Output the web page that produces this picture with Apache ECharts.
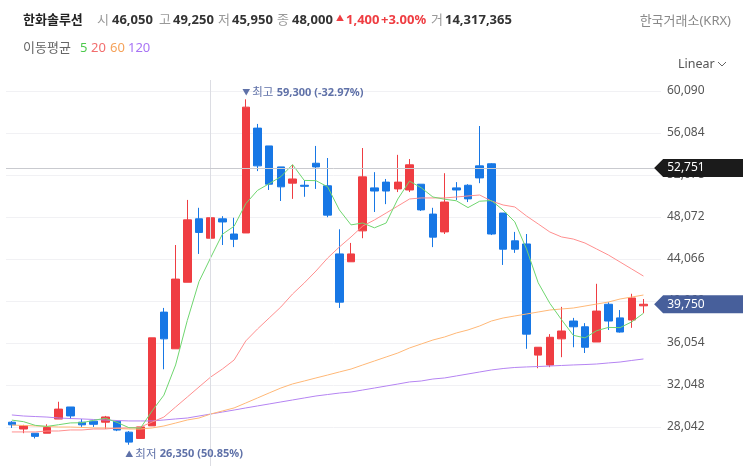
<!DOCTYPE html>
<html lang="ko">
<head>
<meta charset="UTF-8">
<title>한화솔루션</title>
<script src="https://cdn.jsdelivr.net/npm/echarts@6/dist/echarts.min.js"></script>
<style>
  html, body { margin: 0; padding: 0; background: #fff; }
  #chart { width: 743px; height: 466px; }
</style>
</head>
<body>
<div id="chart"></div>
<script>
// 일봉 (화면에 보이는 55개) + 오른쪽 빈 칸 1개
var days = ['1','2','3','4','5','6','7','8','9','10','11','12','13','14','15','16','17','18','19','20',
  '21','22','23','24','25','26','27','28','29','30','31','32','33','34','35','36','37','38','39','40',
  '41','42','43','44','45','46','47','48','49','50','51','52','53','54','55',''];

var opens  = [28500,27850,27450,27450,28800,29950,28500,28600,28500,28600,27550,26950,28150,39000,35500,41850,47900,46050,47900,46450,
  46550,56550,54850,52850,51300,51100,53200,51050,44550,43800,46750,50850,51400,50750,50650,51200,48350,46650,50850,51100,
  52950,53150,48450,45800,45500,34900,33950,36450,38150,37600,36150,39750,38450,38250,39600];
var closes = [28250,28150,27150,28000,29750,29100,28250,28300,29000,27750,26600,28050,36550,36450,42150,47800,46600,48000,47600,45950,
  58550,52950,51200,50950,51700,51000,52850,48250,39950,44550,51900,50550,50550,51400,53050,48750,46150,49500,50650,49800,
  51800,46450,45000,45000,36900,35650,36600,37200,37600,35650,39100,38150,37100,40350,39750];
var lows   = [27950,27450,26950,27450,28800,28800,28050,28050,27850,27650,26350,26900,28150,33550,35500,41850,44550,45950,45400,45200,
  46550,52450,50650,49600,49800,50000,50750,48050,39400,43800,46050,48550,49300,50450,50450,48650,45200,46450,49700,49500,
  51300,46350,43500,44650,35500,33650,33750,34700,35650,35100,36150,37300,37050,37500,38900];
var highs  = [28600,28250,27450,28300,30450,29950,28800,28600,29100,28600,27650,28050,36550,39400,45400,49700,48950,49250,48150,48000,
  59300,56950,54850,52850,53050,51600,54850,53700,46900,45600,54650,52350,51700,54000,53600,51200,48950,52250,51400,51200,
  56750,53200,48450,46650,46450,35650,36900,39500,38450,37950,41700,39950,39200,40750,40250];

var ma5   = [28700,28550,28200,28100,28260,28430,28450,28680,28880,28480,27980,27940,29590,31080,33960,38200,41910,44200,46430,47190,
  49340,50610,51250,51920,53070,51560,51540,50950,48750,47320,47500,47040,47500,49790,51490,50860,49980,49770,49620,48970,
  49580,49640,48740,47610,45030,41800,39830,38270,36790,36540,37230,37540,37520,38070,38890];
var ma20  = [27570,27570,27570,27660,27660,27760,27760,27850,27850,27950,27950,28040,28520,28990,29950,30900,31860,32810,33570,34430,
  36250,37390,38440,39490,40730,41780,42920,44160,45210,46170,47210,47790,48450,49120,49790,49890,49890,49890,49980,50080,
  50170,49600,49220,49030,48170,47410,46640,46170,45970,45590,45020,44450,43780,43110,42440];
var ma60  = [28230,28185,28140,28090,28040,28040,28000,27950,27950,27900,27850,27850,27950,28140,28420,28710,28900,29280,29570,29860,
  30330,30810,31290,31760,32150,32430,32720,33000,33290,33570,33960,34340,34720,35100,35580,35960,36340,36630,37010,37300,
  37680,38150,38440,38630,38820,39010,39200,39300,39390,39580,39770,39960,40250,40440,40630];
var ma120 = [29190,29090,29040,28990,28900,28850,28810,28760,28710,28660,28620,28620,28620,28710,28810,28900,29090,29280,29470,29660,
  29860,30050,30240,30430,30620,30810,31000,31140,31280,31380,31570,31760,31950,32140,32340,32430,32620,32720,32910,33100,
  33290,33480,33620,33720,33770,33810,33860,33910,33960,34000,34050,34150,34240,34390,34530];

var yTickStart = 24036, yTickStep = 4006, yMax = 61140;
var crossIndex = 17, crossPrice = 52751;
var highIndex = 20, highPrice = 59300, lowIndex = 10, lowPrice = 26350;
var lastIndex = 55, lastPrice = 39750;

var FONT = "'Noto Sans', 'Noto Sans CJK KR', sans-serif";
var RED = '#ef3d42', BLUE = '#1777e5', NOTE = '#5f71a8';
var fmt = function (v) { return Math.round(v).toLocaleString('en-US'); };

var kData = opens.map(function (o, i) { return [o, closes[i], lows[i], highs[i]]; });

function txt(t, x, y, size, color, weight, align) {
  return { type: 'text', x: x, y: y, silent: true,
    style: { text: t, fill: color, fontSize: size, fontWeight: weight || 'normal', fontFamily: FONT,
      verticalAlign: 'middle', align: align || 'left' } };
}

var header = [
  txt('한화솔루션', 23, 20, 13, '#222', 'bold'),
  txt('시', 97, 20, 13, '#999'), txt('46,050', 112, 20, 13, '#333', 'bold'),
  txt('고', 159, 20, 13, '#999'), txt('49,250', 173, 20, 13, '#333', 'bold'),
  txt('저', 218, 20, 13, '#999'), txt('45,950', 232, 20, 13, '#333', 'bold'),
  txt('종', 277, 20, 13, '#999'), txt('48,000', 292, 20, 13, '#333', 'bold'),
  txt('▲', 336, 19, 8, RED), txt('1,400', 346, 20, 13, RED, 'bold'), txt('+3.00%', 381, 20, 13, RED, 'bold'),
  txt('거', 431, 20, 13, '#999'), txt('14,317,365', 445, 20, 13, '#333', 'bold'),
  txt('한국거래소(KRX)', 731, 21, 13, '#888', 'normal', 'right'),
  txt('이동평균', 23, 48, 13, '#666'),
  txt('5', 80, 48, 13, '#4cc94c'), txt('20', 91, 48, 13, '#f26d6d'),
  txt('60', 110, 48, 13, '#f5a25a'), txt('120', 128, 48, 13, '#a874f5'),
  txt('Linear', 678, 64, 12.5, '#555'),
  { type: 'polyline', silent: true, shape: { points: [[718, 62], [722, 66], [726, 62]] },
    style: { stroke: '#666', lineWidth: 1, fill: null } }
];

var noteRich = {
  t: { fontSize: 8, color: NOTE, fontFamily: FONT, padding: [0, 2, 0, 0] },
  k: { fontSize: 11.5, color: NOTE, fontFamily: FONT },
  v: { fontSize: 11, color: NOTE, fontFamily: FONT, fontWeight: 'bold' }
};

var chart = echarts.init(document.getElementById('chart'));
chart.setOption({
  animation: false,
  graphic: header,
  grid: { left: 6, right: 82, top: 80, bottom: -3, outerBoundsMode: 'none', containLabel: false },
  xAxis: {
    type: 'category', data: days, boundaryGap: true,
    axisLine: { show: false }, axisTick: { show: false }, axisLabel: { show: false }, splitLine: { show: false }
  },
  yAxis: {
    type: 'value', position: 'right', min: yTickStart, max: yMax, interval: yTickStep,
    axisLine: { show: false }, axisTick: { show: false },
    axisLabel: {
      color: '#555', fontSize: 12, fontFamily: FONT, margin: 6,
      formatter: function (v) {
        if (v <= yTickStart || (v - yTickStart) % yTickStep !== 0) return '';
        return fmt(v);
      }
    },
    splitLine: { lineStyle: { color: '#f1f1f4' }, showMinLine: false, showMaxLine: false }
  },
  series: [
    {
      type: 'candlestick', data: kData, barWidth: 8,
      itemStyle: { color: RED, color0: BLUE, borderColor: RED, borderColor0: BLUE, borderWidth: 1 },
      markLine: {
        silent: true, symbol: ['none', 'none'], label: { show: false },
        data: [
          { xAxis: crossIndex, lineStyle: { color: '#dcdde3', type: 'solid', width: 1 } },
          { yAxis: crossPrice, lineStyle: { color: '#c9cacf', type: 'solid', width: 1 } }
        ]
      },
      markPoint: {
        silent: true,
        data: [
          { coord: [highIndex, highPrice], symbol: 'circle', symbolSize: 1, itemStyle: { color: 'transparent' },
            label: { show: true, position: [-3, -6], align: 'left', verticalAlign: 'middle',
              formatter: '{t|▼}{k|최고} {v|' + fmt(highPrice) + ' (-32.97%)}', rich: noteRich } },
          { coord: [lowIndex, lowPrice], symbol: 'circle', symbolSize: 1, itemStyle: { color: 'transparent' },
            label: { show: true, position: [-3, 10], align: 'left', verticalAlign: 'middle',
              formatter: '{t|▲}{k|최저} {v|' + fmt(lowPrice) + ' (50.85%)}', rich: noteRich } },
          { coord: [lastIndex, crossPrice], symbol: 'path://M0,9L9,0L90,0L90,18L9,18Z', symbolSize: [90, 18],
            symbolKeepAspect: false, symbolOffset: [44, 0], itemStyle: { color: '#1b1b1b' },
            label: { show: true, position: 'insideLeft', distance: 13, formatter: fmt(crossPrice),
              color: '#fff', fontSize: 12, fontFamily: FONT } },
          { coord: [lastIndex, lastPrice], symbol: 'path://M0,9L9,0L90,0L90,18L9,18Z', symbolSize: [90, 18],
            symbolKeepAspect: false, symbolOffset: [44, 0], itemStyle: { color: '#475f9b' },
            label: { show: true, position: 'insideLeft', distance: 13, formatter: fmt(lastPrice),
              color: '#fff', fontSize: 12, fontFamily: FONT } }
        ]
      }
    },
    { type: 'line', data: ma120, showSymbol: false, lineStyle: { color: '#b584f2', width: 1 } },
    { type: 'line', data: ma60, showSymbol: false, lineStyle: { color: '#ffb877', width: 1 } },
    { type: 'line', data: ma20, showSymbol: false, lineStyle: { color: '#ff8f8f', width: 1 } },
    { type: 'line', data: ma5, showSymbol: false, lineStyle: { color: '#6fd66f', width: 1 } }
  ]
});
</script>
</body>
</html>
